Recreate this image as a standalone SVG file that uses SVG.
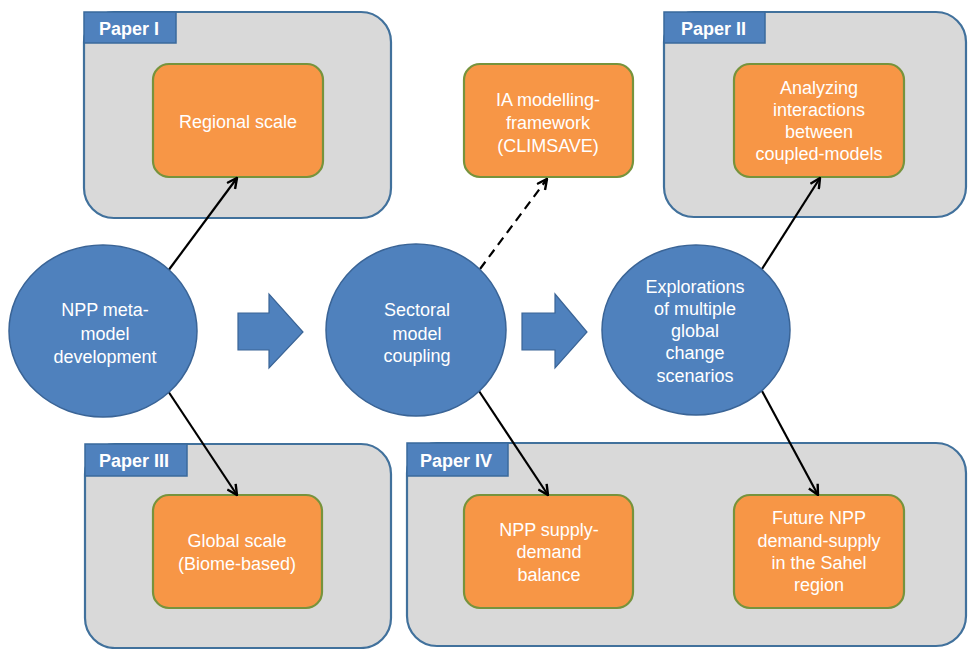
<svg xmlns="http://www.w3.org/2000/svg" width="968" height="649" viewBox="0 0 968 649">
<defs>
<marker id="arr" viewBox="0 0 12 12" refX="11" refY="6" markerWidth="12" markerHeight="12" markerUnits="userSpaceOnUse" orient="auto">
<polyline points="1,1 11,6 1,11" fill="none" stroke="#000" stroke-width="2.4"/>
</marker>
<style>
.paper{fill:#D9D9D9;stroke:#41719C;stroke-width:2.2}
.tab{fill:#4F81BD;stroke:#3A6A9C;stroke-width:1.5}
.tabt{font-family:"Liberation Sans",Arial,sans-serif;font-weight:bold;font-size:18px;fill:#fff}
.box{fill:#F79646;stroke:#77933C;stroke-width:2.2}
.circ{fill:#4F81BD;stroke:#3A6496;stroke-width:1.5}
.t{font-family:"Liberation Sans",Arial,sans-serif;font-size:18px;fill:#fff;text-anchor:middle}
.blk{fill:#4F81BD;stroke:#3A6496;stroke-width:1.2}
.con{stroke:#000;stroke-width:2.2;fill:none;marker-end:url(#arr)}
</style>
</defs>
<rect width="968" height="649" fill="#fff"/>

<g id="paper1">
<rect class="paper" x="84" y="12" width="307" height="206" rx="30"/>
<rect class="tab" x="84" y="12" width="92" height="31"/>
<text class="tabt" x="99" y="35">Paper I</text>
</g>
<g id="paper2">
<rect class="paper" x="664" y="12" width="302" height="205" rx="30"/>
<rect class="tab" x="664" y="12" width="101" height="31"/>
<text class="tabt" x="681" y="35">Paper II</text>
</g>
<g id="paper3">
<rect class="paper" x="85" y="444" width="306" height="204" rx="30"/>
<rect class="tab" x="85" y="444" width="102" height="32"/>
<text class="tabt" x="99" y="467">Paper III</text>
</g>
<g id="paper4">
<rect class="paper" x="407" y="443" width="559" height="203" rx="30"/>
<rect class="tab" x="407" y="443" width="101" height="33"/>
<text class="tabt" x="420" y="467">Paper IV</text>
</g>

<g id="regional">
<rect class="box" x="153" y="64" width="170" height="113" rx="16"/>
<text class="t" x="238" y="128">Regional scale</text>
</g>
<g id="ia">
<rect class="box" x="464" y="64" width="169" height="113" rx="16"/>
<text class="t" x="548" y="106">IA modelling-</text>
<text class="t" x="548" y="129">framework</text>
<text class="t" x="548" y="152">(CLIMSAVE)</text>
</g>
<g id="analyzing">
<rect class="box" x="734" y="64" width="170" height="113" rx="16"/>
<text class="t" x="819" y="94">Analyzing</text>
<text class="t" x="819" y="116">interactions</text>
<text class="t" x="819" y="138">between</text>
<text class="t" x="819" y="160">coupled-models</text>
</g>
<g id="global">
<rect class="box" x="153" y="495" width="169" height="113" rx="16"/>
<text class="t" x="237" y="547">Global scale</text>
<text class="t" x="237" y="570">(Biome-based)</text>
</g>
<g id="supply">
<rect class="box" x="464" y="495" width="169" height="113" rx="16"/>
<text class="t" x="549" y="536">NPP supply-</text>
<text class="t" x="549" y="558">demand</text>
<text class="t" x="549" y="581">balance</text>
</g>
<g id="future">
<rect class="box" x="734" y="495" width="170" height="113" rx="16"/>
<text class="t" x="819" y="524">Future NPP</text>
<text class="t" x="819" y="547">demand-supply</text>
<text class="t" x="819" y="569">in the Sahel</text>
<text class="t" x="819" y="591">region</text>
</g>

<g id="connectors">
<line class="con" x1="168" y1="271" x2="237" y2="178"/>
<line class="con" x1="168" y1="391" x2="237" y2="495"/>
<line class="con" x1="480" y1="269" x2="547" y2="179" stroke-dasharray="9,6"/>
<line class="con" x1="479" y1="391" x2="548" y2="495"/>
<line class="con" x1="762" y1="269" x2="820" y2="178"/>
<line class="con" x1="762" y1="391" x2="818" y2="495"/>
</g>

<g id="npp">
<ellipse class="circ" cx="103" cy="331" rx="94" ry="86"/>
<text class="t" x="105" y="316">NPP meta-</text>
<text class="t" x="105" y="340">model</text>
<text class="t" x="105" y="363">development</text>
</g>
<g id="sectoral">
<ellipse class="circ" cx="416" cy="330" rx="90" ry="86"/>
<text class="t" x="417" y="316">Sectoral</text>
<text class="t" x="417" y="340">model</text>
<text class="t" x="417" y="362">coupling</text>
</g>
<g id="explorations">
<ellipse class="circ" cx="696" cy="330" rx="94" ry="85"/>
<text class="t" x="695" y="293">Explorations</text>
<text class="t" x="695" y="315">of multiple</text>
<text class="t" x="695" y="337">global</text>
<text class="t" x="695" y="359">change</text>
<text class="t" x="695" y="382">scenarios</text>
</g>

<g id="flow1">
<polygon class="blk" points="238,313 269,313 269,294 303,332 269,368 269,350 238,350"/>
</g>
<g id="flow2">
<polygon class="blk" points="522,313 555,313 555,294 587,332 555,368 555,350 522,350"/>
</g>
</svg>
